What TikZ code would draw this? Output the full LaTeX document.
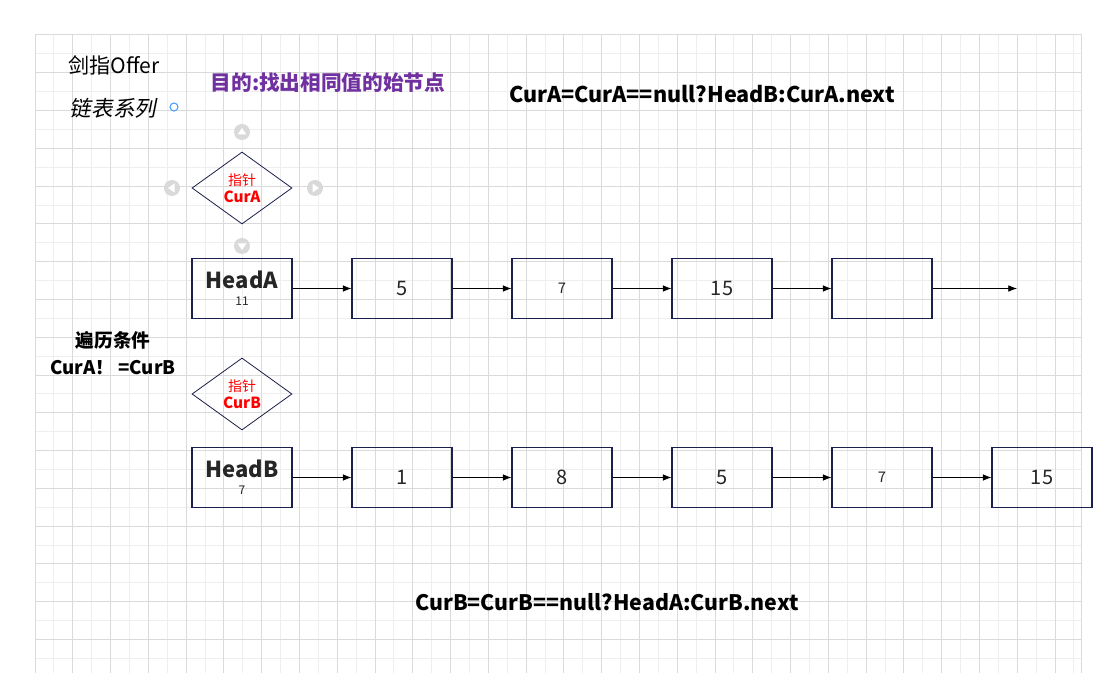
\documentclass[tikz,border=0pt]{standalone}
\usepackage{fontspec}
\setmainfont{Noto Sans CJK SC}
\newfontfamily\slantcjk[FakeSlant=0.2]{Noto Sans CJK SC}
\usepackage{xcolor}
\usetikzlibrary{arrows.meta, shapes.geometric, positioning}
\definecolor{boxline}{HTML}{1B1F4B}
\definecolor{goalpurple}{HTML}{7030A0}
\definecolor{gridmajor}{HTML}{DADADA}
\definecolor{gridminor}{HTML}{EEEEEE}
\definecolor{handlegray}{HTML}{D9D9D9}
\definecolor{anchorblue}{HTML}{4A9EFF}
\tikzset{cell/.style={shape=rectangle, draw=boxline, line width=0.85pt,
                      minimum width=75pt, minimum height=45pt, inner sep=0pt,
                      text=black!85, font=\fontsize{15}{15}\selectfont},
         pointer/.style={shape=diamond, draw=boxline, line width=0.6pt,
                      minimum width=75pt, minimum height=54pt, inner sep=0pt,
                      text=red, align=center}}

\begin{document}
\begin{tikzpicture}[x=0.75pt, y=-0.75pt, >={Latex[length=6.5pt,width=5pt]},
                    node distance=120pt, semithick]
\useasboundingbox (0,0) rectangle (1118,673);
\fill[white] (0,0) rectangle (1118,673);
% grid
\foreach \k in {0,...,55} \draw[gridminor, line width=0.75pt] ({35+18.89*\k},35) -- ({35+18.89*\k},673);
\foreach \k in {0,...,33} \draw[gridminor, line width=0.75pt] (35,{35+18.89*\k}) -- (1081.7,{35+18.89*\k});
\foreach \k in {0,...,27} \draw[gridmajor, line width=0.75pt] ({35+37.78*\k},35) -- ({35+37.78*\k},673);
\foreach \k in {0,...,16} \draw[gridmajor, line width=0.75pt] (35,{35+37.78*\k}) -- (1081.7,{35+37.78*\k});
\draw[gridmajor, line width=0.75pt] (1081.7,35) -- (1081.7,673);

% titles
\node (title) at (114,65) {\fontsize{15.8}{15.8}\selectfont 剑指Offer};
\node (series) at (113,108) {\fontsize{16.2}{16.2}\selectfont\slantcjk 链表系列};
\draw[anchorblue, line width=0.8pt] (174,107) circle (4);
\node[text=goalpurple, font=\bfseries\fontsize{15.5}{15.5}\selectfont] (goal) at (328,83) {目的:找出相同值的始节点};
\node[font=\bfseries\fontsize{16.2}{16.2}\selectfont] (stepA) at (702,94) {CurA=CurA==null?HeadB:CurA.next};
\node[font=\bfseries\fontsize{16}{16}\selectfont] (stepB) at (607,602) {CurB=CurB==null?HeadA:CurB.next};
\node[font=\bfseries\fontsize{14}{20}\selectfont, align=center] (cond) at (113,353) {遍历条件\\CurA！ =CurB};

% pointers
\node[pointer] (curA) at (242,188) {{\fontsize{10.5}{13}\selectfont 指针}\\[1pt]{\bfseries\fontsize{11.5}{13}\selectfont CurA}};
\node[pointer] (curB) at (242,394) {{\fontsize{10.5}{13}\selectfont 指针}\\[1pt]{\bfseries\fontsize{11.5}{13}\selectfont CurB}};
\foreach \ang/\px/\py in {90/242/132, 180/172/188, 0/315/188, -90/242/246} {
  \fill[handlegray] (\px,\py) circle (8);
  \fill[white, shift={(\px,\py)}, rotate=\ang] (4,0) -- (-2.5,4.5) -- (-2.5,-4.5) -- cycle;
}

% list A
\node[cell, align=center] (a1) at (242,288.5) {{\bfseries\fontsize{16.5}{18}\selectfont HeadA}\\[-2pt]{\fontsize{9}{10}\selectfont 11}};
\node[cell] (a2) [right of=a1] {5};
\node[cell, font=\fontsize{11}{11}\selectfont] (a3) [right of=a2] {7};
\node[cell] (a4) [right of=a3] {15};
\node[cell] (a5) [right of=a4] {};
\coordinate (aend) at (1017,288.5);
\path[->] (a1) edge (a2);
\path[->] (a2) edge (a3);
\path[->] (a3) edge (a4);
\path[->] (a4) edge (a5);
\path[->] (a5) edge (aend);

% list B
\node[cell, align=center] (b1) at (242,477.5) {{\bfseries\fontsize{16.5}{18}\selectfont HeadB}\\[-2pt]{\fontsize{9}{10}\selectfont 7}};
\node[cell] (b2) [right of=b1] {1};
\node[cell] (b3) [right of=b2] {8};
\node[cell] (b4) [right of=b3] {5};
\node[cell, font=\fontsize{11}{11}\selectfont] (b5) [right of=b4] {7};
\node[cell] (b6) [right of=b5] {15};
\path[->] (b1) edge (b2);
\path[->] (b2) edge (b3);
\path[->] (b3) edge (b4);
\path[->] (b4) edge (b5);
\path[->] (b5) edge (b6);
\end{tikzpicture}
\end{document}
